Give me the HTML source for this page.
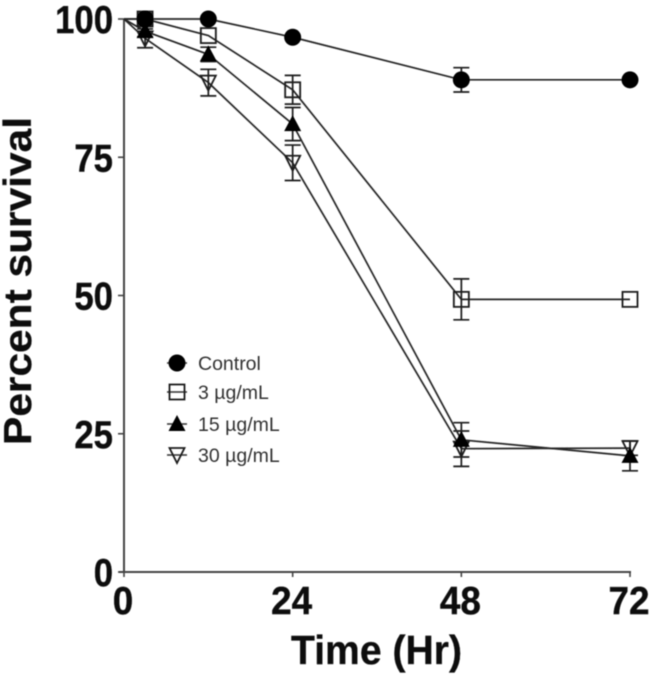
<!DOCTYPE html>
<html>
<head>
<meta charset="utf-8">
<style>
html,body{margin:0;padding:0;background:#fff;width:656px;height:682px;overflow:hidden}
svg{display:block}
text{font-family:"Liberation Sans",sans-serif}
</style>
</head>
<body>
<svg id="chart" xmlns="http://www.w3.org/2000/svg" width="656" height="682" viewBox="0 0 656 682">
<defs><filter id="soft" x="-5%" y="-5%" width="110%" height="110%"><feGaussianBlur stdDeviation="0.45"/></filter></defs>
<g id="root" filter="url(#soft)"></g>
</svg>
<script>
var timePoints = [3, 12, 24, 48, 72];
var seriesNames = ["Control", "3 µg/mL", "15 µg/mL", "30 µg/mL"];
var seriesKinds = ["circle", "square", "triangle", "nabla"];
var controlValues = [100, 100, 96.7, 89, 89];
var controlErrors = [0, 0, 0, 2.2, 0];
var lowValues = [100, 97, 87.2, 49.3, 49.3];
var lowErrors = [1, 0, 2.6, 3.7, 0];
var midValues = [97.8, 93.6, 81, 23.9, 21];
var midErrors = [1, 1.3, 3, 3.1, 2.7];
var highValues = [96.5, 88.5, 74, 22.3, 22.4];
var highErrors = [1.7, 2.4, 3.2, 3.2, 1.3];
var xTickValues = [0, 24, 48, 72];
var yTickValues = [0, 25, 50, 75, 100];

var NS = "http://www.w3.org/2000/svg";
var root = document.getElementById("root");
var INK = "#1c1c1c";
function xAxis(v){ return 124 + v * (630 - 124) / 72; }
function yAxis(v){ return 572 - v * (572 - 19) / 100; }
function make(tag, attrs, parent){
  var el = document.createElementNS(NS, tag);
  for (var k in attrs) el.setAttribute(k, attrs[k]);
  (parent || root).appendChild(el);
  return el;
}
function drawMarker(kind, x, y, parent){
  var m;
  if (kind === "circle") {
    m = make("circle", {cx:x, cy:y, r:8.5, fill:"#000"}, parent);
  } else if (kind === "square") {
    m = make("rect", {x:x-7.5, y:y-7.5, width:15, height:15, fill:"none", stroke:INK, "stroke-width":1.8}, parent);
  } else if (kind === "triangle") {
    m = make("path", {d:"M"+x+" "+(y-9)+"L"+(x+8.5)+" "+(y+7)+"L"+(x-8.5)+" "+(y+7)+"Z", fill:"#000"}, parent);
  } else {
    m = make("path", {d:"M"+(x-7.5)+" "+(y-7)+"L"+(x+7.5)+" "+(y-7)+"L"+x+" "+(y+8)+"Z", fill:"none", stroke:INK, "stroke-width":1.8}, parent);
  }
  
  
}

var axes = make("g", {});



var yLine = make("line", {x1:124, y1:yAxis(100), x2:124, y2:yAxis(0), stroke:"#444", "stroke-width":2}, axes);


var xLine = make("line", {x1:119, y1:yAxis(0), x2:xAxis(72)+1, y2:yAxis(0), stroke:"#444", "stroke-width":2}, axes);



yTickValues.forEach(function(v){
  var t = make("line", {x1:118, y1:yAxis(v), x2:124, y2:yAxis(v), stroke:"#444", "stroke-width":1.6}, axes);
  
  
  var l = make("text", {x:113, y:yAxis(v)+14, "text-anchor":"end", "font-size":39, "font-weight":"bold", fill:"#0c0c0c", stroke:"#0c0c0c", "stroke-width":0.4, textLength:String(v).length * 19.3, lengthAdjust:"spacingAndGlyphs"}, axes);
  l.textContent = v;
  
  
});
xTickValues.forEach(function(v){
  var t = make("line", {x1:xAxis(v), y1:yAxis(0), x2:xAxis(v), y2:yAxis(0)+5, stroke:"#444", "stroke-width":1.6}, axes);
  
  
  var l = make("text", {x:xAxis(v)-1, y:614, "text-anchor":"middle", "font-size":39, "font-weight":"bold", fill:"#0c0c0c", stroke:"#0c0c0c", "stroke-width":0.4, textLength:String(v).length * 20.5, lengthAdjust:"spacingAndGlyphs"}, axes);
  l.textContent = v;
  
  
});

var xTitle = make("text", {x:291, y:664, "font-size":41, "font-weight":"bold", fill:"#0c0c0c", stroke:"#0c0c0c", "stroke-width":0.3, textLength:171, lengthAdjust:"spacingAndGlyphs"}, axes);
xTitle.textContent = "Time (Hr)";


var yTitle = make("text", {transform:"translate(31,445) rotate(-90)", "font-size":39, "font-weight":"bold", fill:"#0c0c0c", stroke:"#0c0c0c", "stroke-width":0.3, textLength:328, lengthAdjust:"spacingAndGlyphs"}, axes);
yTitle.textContent = "Percent survival";



var allValues = [controlValues, lowValues, midValues, highValues];
var allErrors = [controlErrors, lowErrors, midErrors, highErrors];
var drawOrder = [3, 2, 1, 0];
drawOrder.forEach(function(s){
  var g = make("g", {});
  
  
  var pts = allValues[s].map(function(v, i){ return xAxis(timePoints[i]) + "," + yAxis(v); });
  pts.unshift(xAxis(0) + "," + yAxis(100));
  var line = make("polyline", {points:pts.join(" "), fill:"none", stroke:"#262626", "stroke-width":1.7}, g);
  
  
  allValues[s].forEach(function(v, i){
    var e = allErrors[s][i], x = xAxis(timePoints[i]);
    if (e > 0) {
      var hi = yAxis(v + e), lo = yAxis(v - e);
      var bar = make("path", {d:"M"+x+" "+hi+"V"+lo+"M"+(x-8)+" "+hi+"H"+(x+8)+"M"+(x-8)+" "+lo+"H"+(x+8), fill:"none", stroke:"#1c1c1c", "stroke-width":1.7}, g);
      
      
    }
    drawMarker(seriesKinds[s], x, yAxis(v), g);
  });
});

var legend = make("g", {});


var legendRowY = [363, 392, 424, 455];
seriesNames.forEach(function(name, i){
  var row = make("g", {}, legend);
  
  
  var dash = make("line", {x1:167, y1:legendRowY[i], x2:187, y2:legendRowY[i], stroke:"#333", "stroke-width":1.5}, row);
  
  
  drawMarker(seriesKinds[i], 177, legendRowY[i], row);
  var t = make("text", {x:198, y:legendRowY[i]+7, "font-size":19.5, fill:"#333"}, row);
  t.textContent = name;
  
  
});
</script>
</body>
</html>
